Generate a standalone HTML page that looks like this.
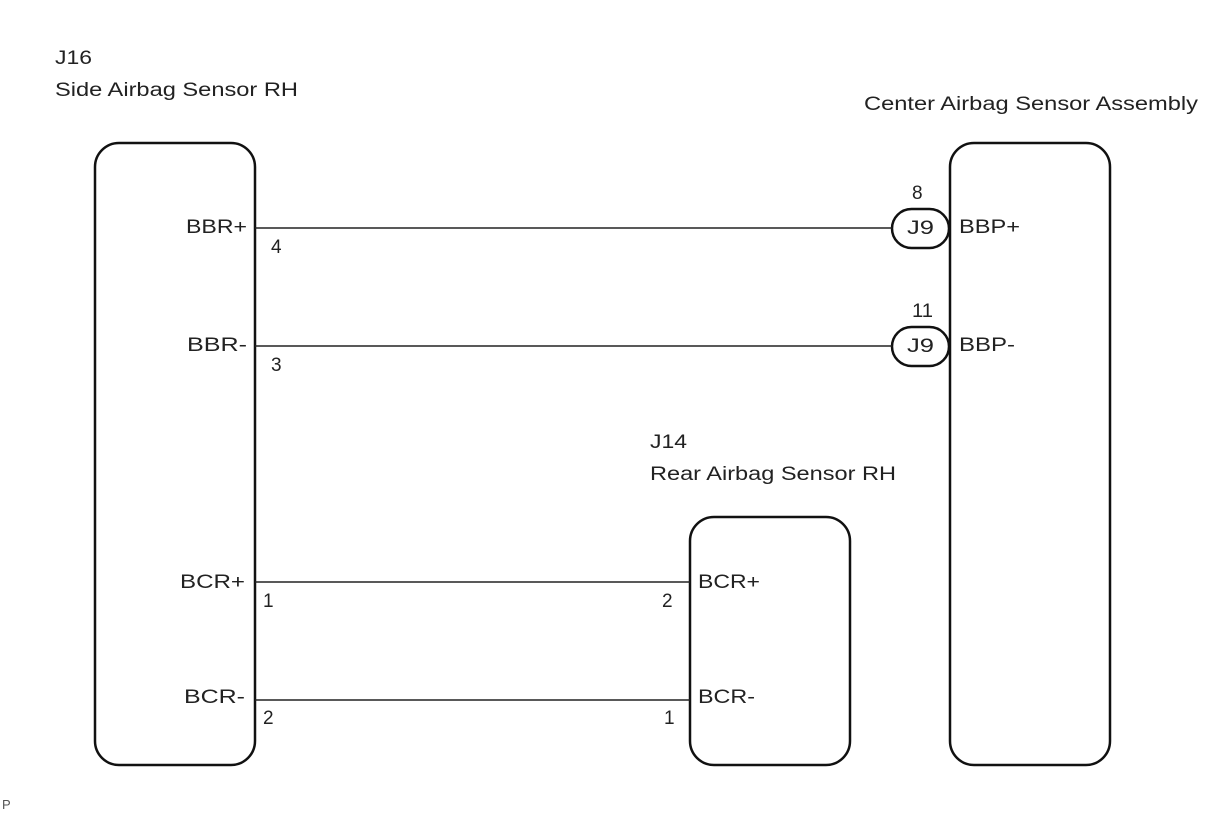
<!DOCTYPE html>
<html><head><style>body{margin:0;background:#fff}</style></head><body>
<svg width="1210" height="814" viewBox="0 0 1210 814" xmlns="http://www.w3.org/2000/svg" font-family="Liberation Sans, Arial, sans-serif" font-size="19" fill="#222">
<g fill="none" stroke="#111" stroke-width="2.5">
<rect x="95" y="143" width="160" height="622" rx="24"/>
<rect x="950" y="143" width="160" height="622" rx="24"/>
<rect x="690" y="517" width="160" height="248" rx="24"/>
<rect x="892" y="209" width="57" height="39" rx="19.5"/>
<rect x="892" y="327" width="57" height="39" rx="19.5"/>
</g>
<g stroke="#222" stroke-width="1.6">
<line x1="255" y1="228" x2="892" y2="228"/>
<line x1="255" y1="346" x2="892" y2="346"/>
<line x1="255" y1="582" x2="690" y2="582"/>
<line x1="255" y1="700" x2="690" y2="700"/>
</g>
<g lengthAdjust="spacingAndGlyphs">
<text x="55" y="64" textLength="37" lengthAdjust="spacingAndGlyphs">J16</text>
<text x="55" y="96" textLength="243" lengthAdjust="spacingAndGlyphs">Side Airbag Sensor RH</text>
<text x="864" y="110" textLength="334" lengthAdjust="spacingAndGlyphs">Center Airbag Sensor Assembly</text>
<text x="650" y="448" textLength="37" lengthAdjust="spacingAndGlyphs">J14</text>
<text x="650" y="480" textLength="246" lengthAdjust="spacingAndGlyphs">Rear Airbag Sensor RH</text>
<text x="186" y="233" textLength="61" lengthAdjust="spacingAndGlyphs">BBR+</text>
<text x="187" y="351" textLength="60" lengthAdjust="spacingAndGlyphs">BBR-</text>
<text x="180" y="588" textLength="65" lengthAdjust="spacingAndGlyphs">BCR+</text>
<text x="184" y="703" textLength="61" lengthAdjust="spacingAndGlyphs">BCR-</text>
<text x="959" y="233" textLength="61" lengthAdjust="spacingAndGlyphs">BBP+</text>
<text x="959" y="351" textLength="56" lengthAdjust="spacingAndGlyphs">BBP-</text>
<text x="698" y="588" textLength="62" lengthAdjust="spacingAndGlyphs">BCR+</text>
<text x="698" y="703" textLength="57" lengthAdjust="spacingAndGlyphs">BCR-</text>
<text x="907" y="234" textLength="27" lengthAdjust="spacingAndGlyphs">J9</text>
<text x="907" y="352" textLength="27" lengthAdjust="spacingAndGlyphs">J9</text>
</g>
<text x="271" y="253">4</text>
<text x="271" y="371">3</text>
<text x="263" y="607">1</text>
<text x="263" y="724">2</text>
<text x="662" y="607">2</text>
<text x="664" y="724">1</text>
<text x="912" y="199">8</text>
<text x="912" y="317" textLength="21" lengthAdjust="spacingAndGlyphs">11</text>
<text x="2" y="809" font-size="13" fill="#555">P</text>
</svg>
</body></html>
